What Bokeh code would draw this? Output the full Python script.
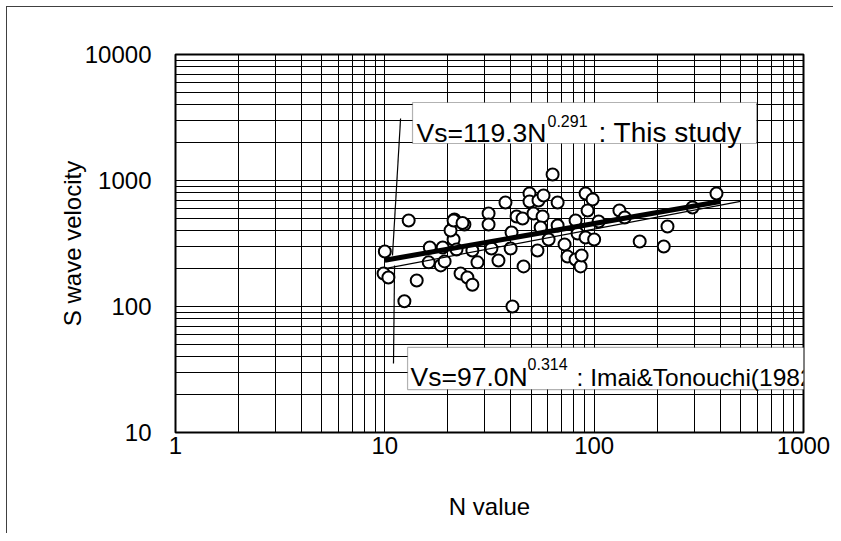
from bokeh.plotting import figure
from bokeh.models import FixedTicker, PrintfTickFormatter, Label, BoxAnnotation
from bokeh.embed import file_html
from bokeh.resources import INLINE

# ---- data ----
n_value = [13.0, 10.0, 9.86, 10.4, 14.2, 12.4, 16.4, 16.2, 18.5, 19.3,
           18.9, 21.3, 20.6, 21.5, 24.0, 22.0, 26.2, 27.7, 23.0, 24.8,
           26.2, 31.3, 31.3, 32.3, 34.9, 63.3, 37.7, 49.1, 49.1, 54.2,
           57.3, 66.9, 91.0, 98.3, 93.0, 42.6, 45.5, 51.3, 56.7, 55.5,
           66.9, 81.5, 105, 132, 40.3, 39.9, 46.0, 53.6, 60.6, 72.2,
           74.6, 81.5, 86.1, 87.1, 83.3, 91.0, 100, 40.7, 165, 215,
           140, 224, 295, 384, 21.3, 23.5]
s_velocity = [481, 273, 183, 170, 161, 110, 294, 224, 212, 228,
              294, 340, 401, 490, 447, 283, 278, 224, 183, 170,
              149, 547, 447, 289, 232, 1116, 669, 788, 681, 694,
              760, 669, 788, 707, 578, 518, 499, 547, 518, 424,
              439, 481, 473, 578, 387, 289, 208, 278, 340, 311,
              249, 236, 208, 254, 380, 353, 340, 100, 328, 299,
              508, 431, 611, 788, 481, 460]

x_major = [1, 10, 100, 1000]
y_major = [10, 100, 1000, 10000]

this_a, this_b = 119.3, 0.291
imai_a, imai_b = 97.0, 0.314
this_n = [10, 400]
imai_n = [10, 500]

label1_main, label1_sup, label1_rest = "Vs=119.3N", "0.291", ": This study"
label2_main, label2_sup, label2_rest = "Vs=97.0N", "0.314", ": Imai&Tonouchi(1982)"

FONT = "Liberation Sans"

p = figure(width=827, height=527, x_axis_type="log", y_axis_type="log",
           x_range=(1, 1000), y_range=(10, 10000),
           output_backend="svg", toolbar_location=None,
           min_border_left=168, min_border_right=31,
           min_border_top=47, min_border_bottom=102)
p.styles = {"margin-left": "6px", "margin-top": "6px",
            "border-left": "1px solid #404040", "border-top": "1px solid #404040"}

minor_x = [m * 10 ** e for e in range(0, 3) for m in range(2, 10)]
minor_y = [m * 10 ** e for e in range(1, 4) for m in range(2, 10)]
xt = FixedTicker(ticks=x_major, minor_ticks=minor_x)
yt = FixedTicker(ticks=y_major, minor_ticks=minor_y)
p.xaxis[0].ticker = xt
p.yaxis[0].ticker = yt
p.xgrid[0].ticker = xt
p.ygrid[0].ticker = yt
p.xaxis[0].formatter = PrintfTickFormatter(format="%d")
p.yaxis[0].formatter = PrintfTickFormatter(format="%d")

for g in (p.xgrid[0], p.ygrid[0]):
    g.grid_line_color = "black"
    g.grid_line_width = 1
    g.minor_grid_line_color = "black"
    g.minor_grid_line_width = 1

p.outline_line_color = "black"
p.outline_line_width = 2
p.background_fill_color = "white"
p.border_fill_color = "white"

for ax in (p.xaxis[0], p.yaxis[0]):
    ax.axis_line_color = None
    ax.major_tick_line_color = None
    ax.minor_tick_line_color = None
    ax.major_tick_out = 0
    ax.major_tick_in = 0
    ax.major_label_text_font = FONT
    ax.major_label_text_font_size = "24px"
    ax.major_label_text_color = "black"
    ax.axis_label_text_font = FONT
    ax.axis_label_text_font_size = "24px"
    ax.axis_label_text_font_style = "normal"
    ax.axis_label_text_color = "black"

p.xaxis[0].axis_label = "N value"
p.xaxis[0].major_label_standoff = 0
p.xaxis[0].axis_label_standoff = 36
p.yaxis[0].axis_label = "S wave velocity"
p.yaxis[0].major_label_standoff = 20
p.yaxis[0].axis_label_standoff = -4

# data points
p.scatter(n_value, s_velocity, marker="circle", size=12,
          fill_color="white", line_color="black", line_width=2)

# fit lines
p.line(this_n, [this_a * n ** this_b for n in this_n], line_color="black", line_width=5)
p.line(imai_n, [imai_a * n ** imai_b for n in imai_n], line_color="black", line_width=1.2)

# leader lines
p.line([11.89, 10.88], [3105, 254], line_color="black", line_width=1.2)
p.line([11.13, 11.0], [212, 35.3], line_color="black", line_width=1.2)

# label boxes
p.add_layout(BoxAnnotation(left=13.56, right=597, top=4159, bottom=1966,
                           fill_color="white", fill_alpha=1,
                           line_color="black", line_width=1.2))
p.add_layout(BoxAnnotation(left=12.84, right=2911, top=47.3, bottom=21.9,
                           fill_color="white", fill_alpha=1,
                           line_color="black", line_width=1.2))

def add_text(x, y, txt, dx, dy, size):
    p.add_layout(Label(x=x, y=y, text=txt, x_offset=dx, y_offset=dy,
                       text_font=FONT, text_font_size=size, text_color="black",
                       text_align="left", text_baseline="alphabetic"))

add_text(13.56, 4159, label1_main, 4, -30, "26.5px")
add_text(13.56, 4159, label1_sup, 135, -18, "16px")
add_text(13.56, 4159, label1_rest, 186, -30, "28px")

add_text(12.84, 47.3, label2_main, 3, -30, "26.5px")
add_text(12.84, 47.3, label2_sup, 120, -17, "16px")
add_text(12.84, 47.3, label2_rest, 169, -30, "24.5px")

open("out.html", "w").write(file_html(p, INLINE))
